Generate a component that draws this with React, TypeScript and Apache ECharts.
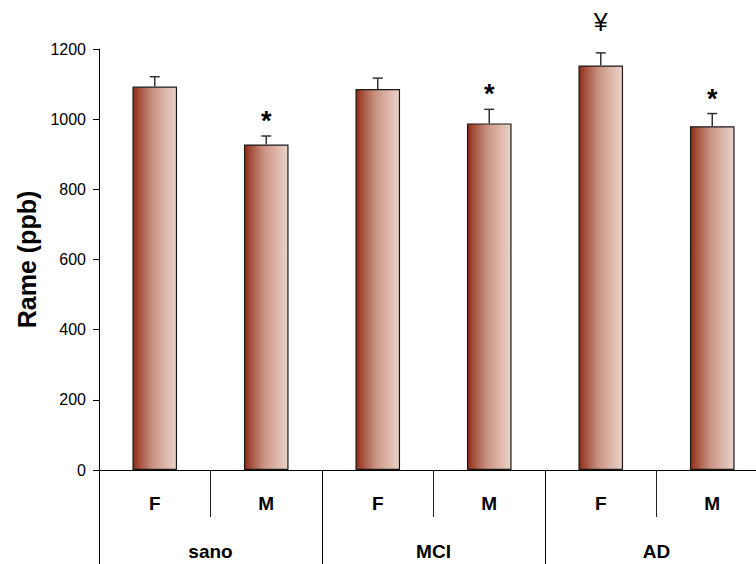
import React, { useEffect, useRef } from "react";
import * as echarts from "echarts";

const subCategories = ["F", "M", "F", "M", "F", "M"];
const groups = ["sano", "MCI", "AD"];
const values = [1093, 928, 1086, 988, 1153, 980];
const errors = [28, 24, 31, 40, 36, 36];
const marks = ["", "*", "", "*", "¥", "*"];
const yTicks = { min: 0, max: 1200, interval: 200 };

const FONT = "'Liberation Sans', Arial, sans-serif";

export default function App() {
  const ref = useRef<HTMLDivElement>(null);
  useEffect(() => {
    if (!ref.current) return;
    const chart = echarts.init(ref.current, undefined, { renderer: "svg" });
    const grad = new echarts.graphic.LinearGradient(0, 0, 1, 0, [
      { offset: 0, color: "#8C2914" },
      { offset: 0.12, color: "#A24A36" },
      { offset: 0.45, color: "#C99383" },
      { offset: 0.75, color: "#DDB7AA" },
      { offset: 1, color: "#EAD3C9" },
    ]);
    const markStyle: Record<string, { off: number; size: number; weight: string }> = {
      "*": { off: 15, size: 27, weight: "bold" },
      "¥": { off: 31, size: 25, weight: "normal" },
    };
    chart.setOption({
      animation: false,
      grid: { left: 99, top: 49, bottom: 94, right: 12, containLabel: false },
      xAxis: [
        {
          type: "category",
          data: subCategories,
          position: "bottom",
          axisLine: { show: true, lineStyle: { color: "#000", width: 1 } },
          axisTick: { show: true, length: 47, lineStyle: { color: "#222", width: 1 } },
          axisLabel: {
            margin: 24,
            fontSize: 19,
            fontWeight: "bold",
            color: "#000",
            fontFamily: FONT,
          },
        },
        {
          type: "category",
          data: groups,
          position: "bottom",
          axisLine: { show: false },
          axisTick: { show: true, length: 94, lineStyle: { color: "#000", width: 1 } },
          axisLabel: {
            margin: 72,
            fontSize: 19,
            fontWeight: "bold",
            color: "#000",
            fontFamily: FONT,
          },
        },
      ],
      yAxis: {
        type: "value",
        min: yTicks.min,
        max: yTicks.max,
        interval: yTicks.interval,
        name: "Rame (ppb)",
        nameLocation: "middle",
        nameGap: 60,
        nameTextStyle: { fontSize: 25, fontWeight: "bold", color: "#000", fontFamily: FONT },
        axisLine: { show: true, lineStyle: { color: "#000", width: 1 } },
        axisTick: { show: true, length: 6, lineStyle: { color: "#000" } },
        axisLabel: {
          margin: 13,
          fontSize: 16,
          color: "#000",
          fontFamily: FONT,
          formatter: (v: number) => String(v),
        },
        splitLine: { show: false },
      },
      series: [
        {
          type: "bar",
          data: values,
          barWidth: "40%",
          itemStyle: { color: grad, borderColor: "#1a1a1a", borderWidth: 1.2 },
          z: 2,
        },
        {
          type: "custom",
          data: values.map((v, i) => [i, v, errors[i], i]),
          z: 3,
          renderItem: (params: any, api: any) => {
            const idx = api.value(0);
            const v = api.value(1);
            const e = api.value(2);
            const top = api.coord([idx, v]);
            const cap = api.coord([idx, v + e]);
            const mk = marks[api.value(3)];
            const children: any[] = [
              {
                type: "line",
                shape: { x1: top[0], y1: top[1], x2: cap[0], y2: cap[1] },
                style: { stroke: "#333", lineWidth: 1.5 },
              },
              {
                type: "line",
                shape: { x1: cap[0] - 5, y1: cap[1], x2: cap[0] + 5, y2: cap[1] },
                style: { stroke: "#333", lineWidth: 1.5 },
              },
            ];
            if (mk) {
              const ms = markStyle[mk];
              children.push({
                type: "text",
                x: cap[0],
                y: cap[1] - ms.off,
                style: {
                  text: mk,
                  fontSize: ms.size,
                  fontWeight: ms.weight,
                  fontFamily: FONT,
                  fill: "#000",
                  align: "center",
                  verticalAlign: "middle",
                },
              });
            }
            return { type: "group", children };
          },
        },
      ],
    });
    return () => chart.dispose();
  }, []);
  return (
    <div style={{ position: "absolute", left: 0, top: 0, width: 756, height: 564, overflow: "hidden" }}>
      <div ref={ref} style={{ width: 780, height: 564 }} />
    </div>
  );
}
